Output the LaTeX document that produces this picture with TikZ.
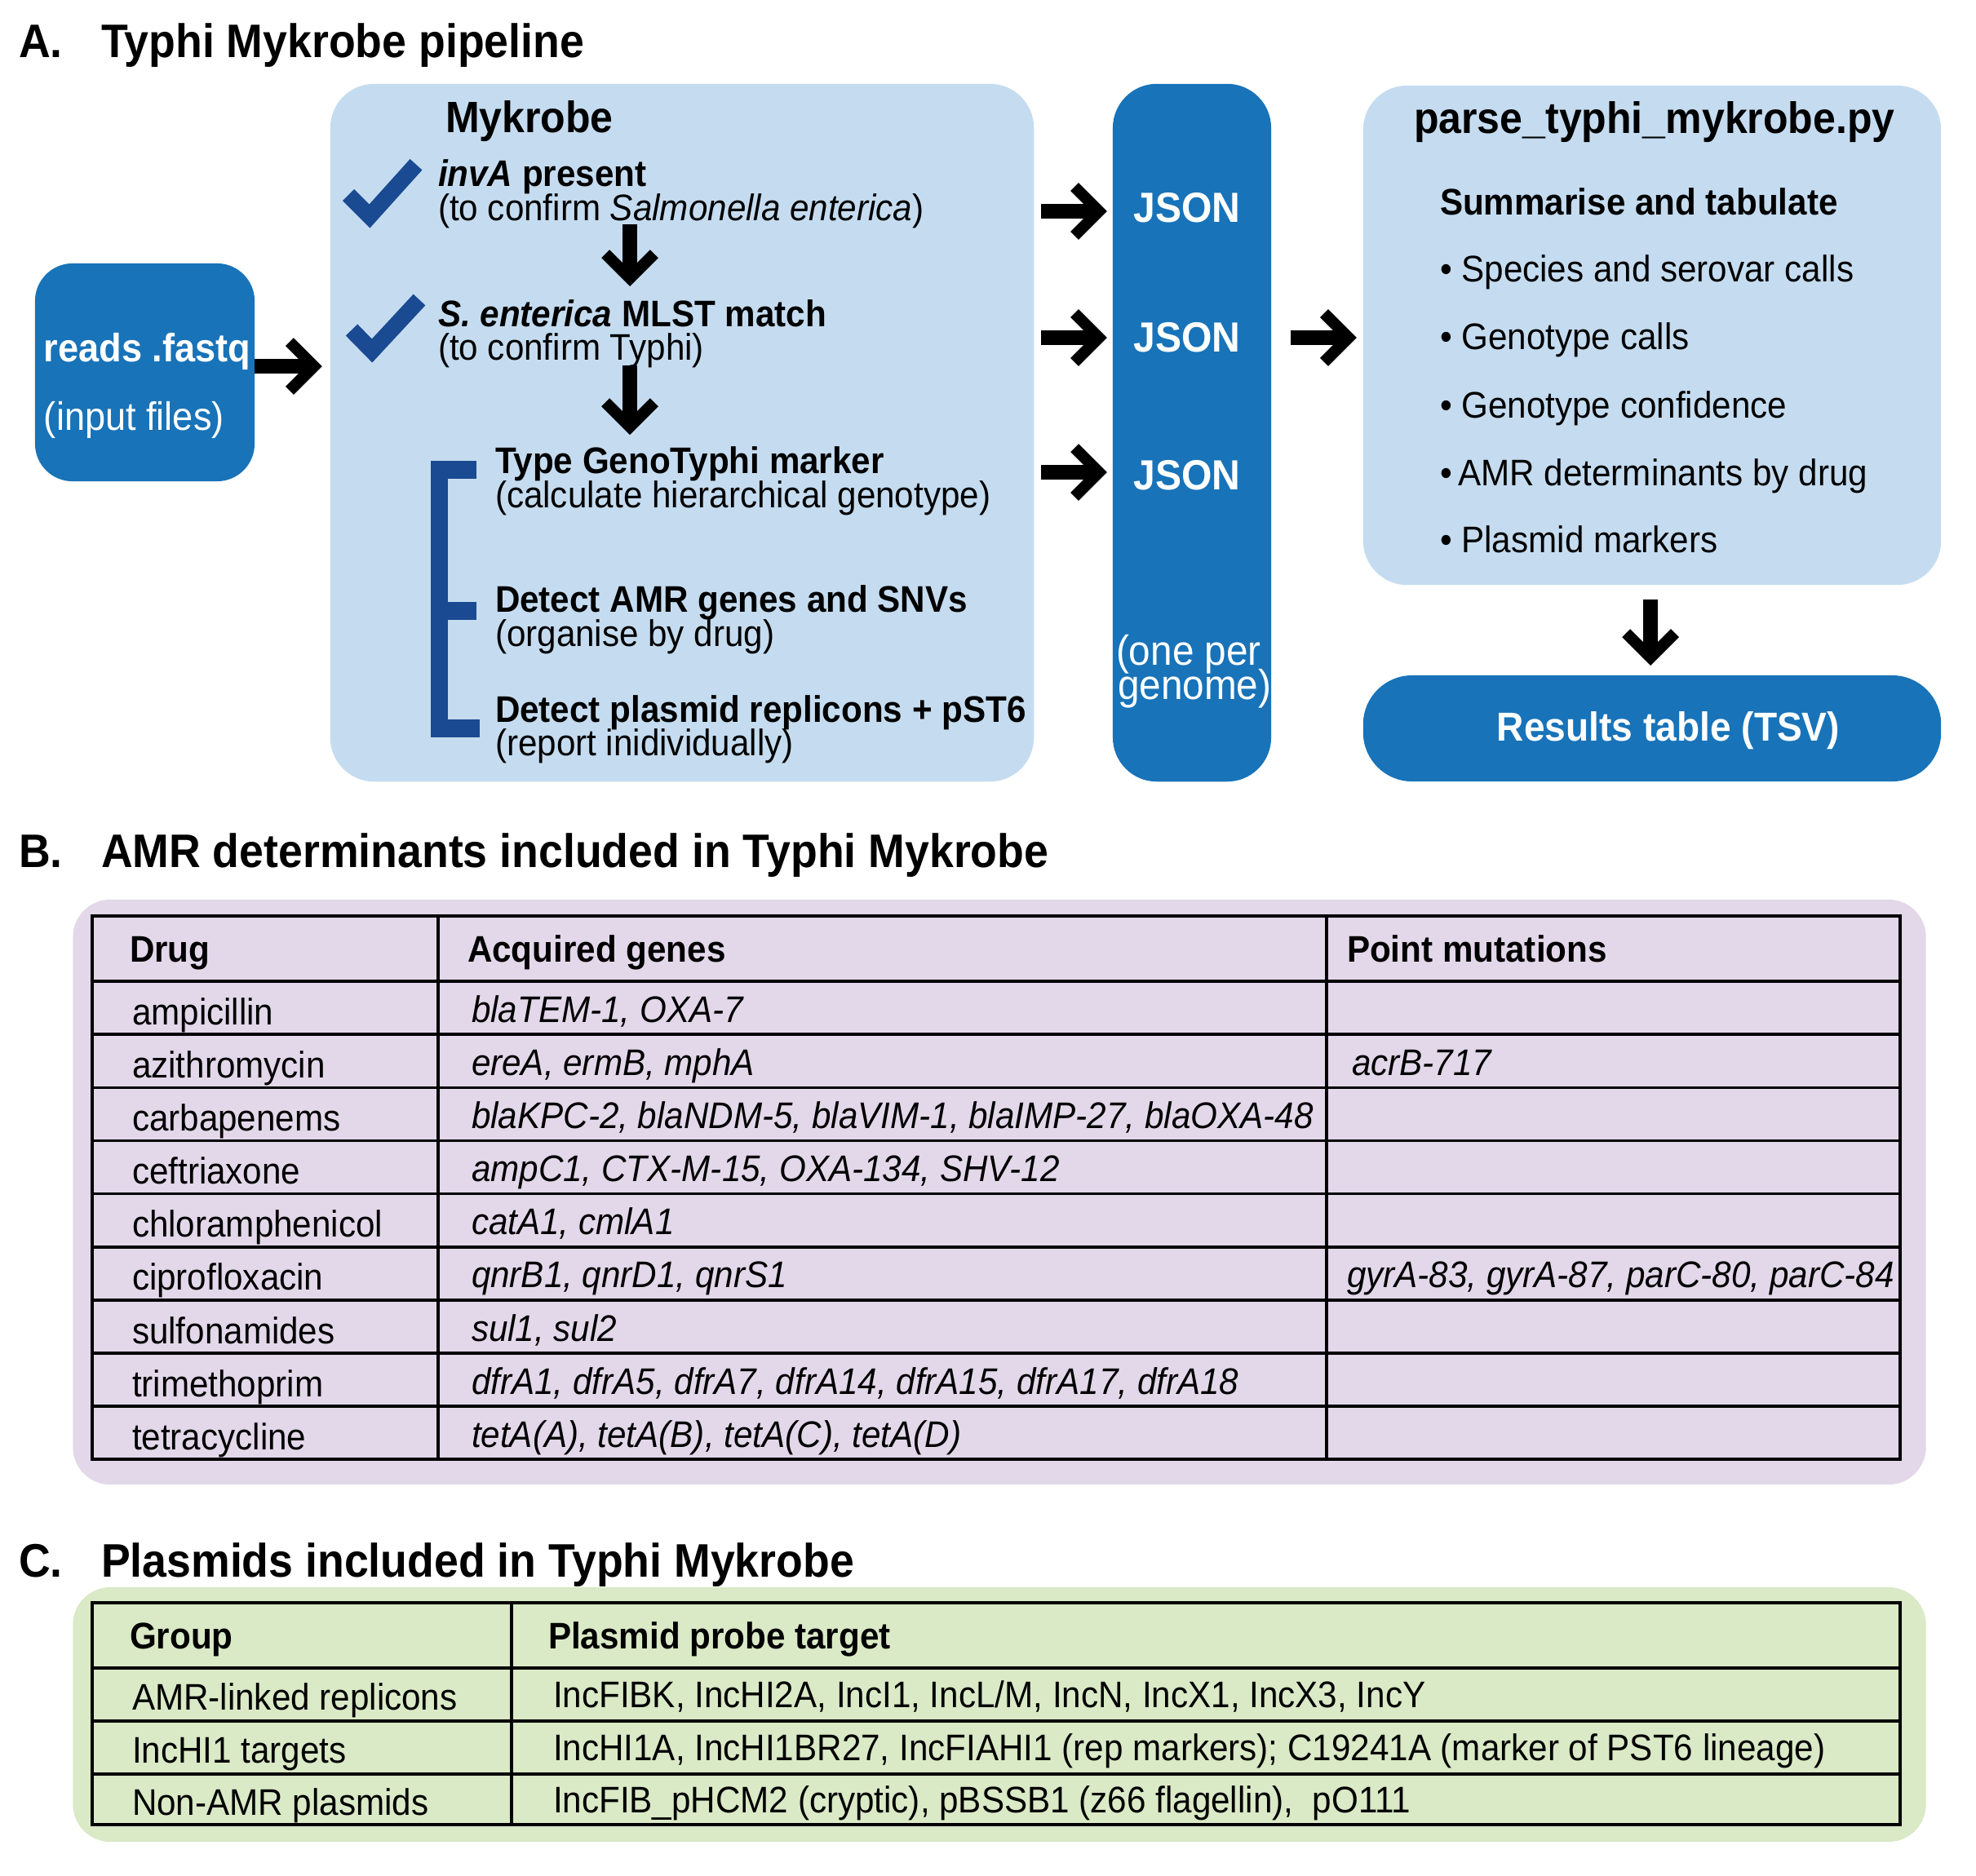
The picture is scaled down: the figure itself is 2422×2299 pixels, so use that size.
\documentclass[tikz,border=0pt]{standalone}
\usepackage{fontspec}
\setmainfont[FakeStretch=0.93]{Liberation Sans}
\usetikzlibrary{arrows.meta}

\tikzset{
  txt/.style={anchor=base west,inner sep=0pt,outer sep=0pt},
  ctxt/.style={anchor=base,inner sep=0pt,outer sep=0pt},
  box/.style={inner sep=0pt,outer sep=0pt,rounded corners=0.54cm},
  ftitle/.style={font=\fontsize{16.4}{18}\selectfont\bfseries},
  fhead/.style={font=\fontsize{15.3}{17}\selectfont\bfseries},
  fjson/.style={font=\fontsize{14.7}{16}\selectfont\bfseries},
  fres/.style={font=\fontsize{14.1}{16}\selectfont\bfseries},
  freads/.style={font=\fontsize{13.8}{15}\selectfont},
  freadsb/.style={font=\fontsize{13.8}{15}\selectfont\bfseries},
  fgen/.style={font=\fontsize{14.6}{16}\selectfont},
  fbody/.style={font=\fontsize{12.9}{14}\selectfont},
  fbold/.style={font=\fontsize{12.9}{14}\selectfont\bfseries},
  fital/.style={font=\fontsize{12.9}{14}\selectfont\itshape},
  fatarrow/.style={line width=5.1pt,-{Straight Barb[length=8.5pt,width=17pt,line width=4pt]}},
  tickmark/.style={draw=tickBlue,line width=5.7pt,miter limit=10},
  grid/.style={draw=black,line width=1pt}
}

\begin{document}
\begin{tikzpicture}[x=0.01cm,y=-0.01cm]
\definecolor{darkBlue}{RGB}{24,115,185}
\definecolor{lightBlue}{RGB}{197,220,240}
\definecolor{tickBlue}{RGB}{26,74,146}
\definecolor{lilac}{RGB}{227,216,234}
\definecolor{sage}{RGB}{218,233,198}
\path[use as bounding box,fill=white] (0,0) rectangle (2422,2299);

\node[txt,ftitle] (labA) at ( 23,70) {A.};
\node[txt,ftitle] (titA) at (124,70) {Typhi Mykrobe pipeline};

\node[box,fill=darkBlue,rounded corners=0.46cm,minimum width=2.69cm,minimum height=2.67cm] (reads) at (177.5,456.5) {};
\node[box,fill=lightBlue,minimum width=8.62cm,minimum height=8.55cm] (myk) at (836,530.5) {};
\node[box,fill=darkBlue,minimum width=1.94cm,minimum height=8.55cm] (json) at (1461,530.5) {};
\node[box,fill=lightBlue,minimum width=7.08cm,minimum height=6.12cm] (parse) at (2025,411) {};
\node[box,fill=darkBlue,rounded corners=0.6cm,minimum width=7.08cm,minimum height=1.30cm] (res) at (2025,893) {};

\node[txt,freadsb,text=white] (readsA) at (54,443) {reads .fastq};
\node[txt,freads,text=white] (readsB) at (54,527) {(input files)};

\node[txt,fhead] (mykHead) at (546,162) {Mykrobe};
\node[txt,fbold] (invA) at (537,228) {\textit{invA} present};
\node[txt,fbody] (invB) at (537,270) {(to confirm \textit{Salmonella enterica})};
\node[txt,fbold] (mlstA) at (537,400) {\textit{S. enterica} MLST match};
\node[txt,fbody] (mlstB) at (537,441) {(to confirm Typhi)};
\node[txt,fbold] (genoA) at (607,580) {Type GenoTyphi marker};
\node[txt,fbody] (genoB) at (607,622) {(calculate hierarchical genotype)};
\node[txt,fbold] (amrA) at (607,750) {Detect AMR genes and SNVs};
\node[txt,fbody] (amrB) at (607,792) {(organise by drug)};
\node[txt,fbold] (plasA) at (607,885) {Detect plasmid replicons + pST6};
\node[txt,fbody] (plasB) at (607,926) {(report inidividually)};

\path[tickmark] (427,239) -- (453,265) -- (510,201.7);
\path[tickmark] (431,404.5) -- (456,430) -- (514,367.5);
\path[draw=tickBlue,line width=6pt] (584,576) -- (538.5,576) -- (538.5,893) -- (588,893);
\path[draw=tickBlue,line width=6pt] (538.5,749) -- (584,749);

\coordinate (dnA1) at (772,275);
\coordinate (dnA2) at (772,351);
\coordinate (dnB1) at (772,448);
\coordinate (dnB2) at (772,533);
\draw[fatarrow] (dnA1) -- (dnA2);
\draw[fatarrow] (dnB1) -- (dnB2);

\node[ctxt,fjson,text=white] (json1) at (1455,272) {JSON};
\node[ctxt,fjson,text=white] (json2) at (1455,431) {JSON};
\node[ctxt,fjson,text=white] (json3) at (1455,600) {JSON};
\node[txt,fgen,text=white] (perA) at (1368,815) {(one per};
\node[txt,fgen,text=white] (perB) at (1370,857) {genome)};

\node[txt,fhead] (parseHead) at (1733,163) {parse\_typhi\_mykrobe.py};
\node[txt,fbold] (sumHead) at (1765,263) {Summarise and tabulate};
\node[txt,fbody] (sum1) at (1765,345) {• Species and serovar calls};
\node[txt,fbody] (sum2) at (1765,428) {• Genotype calls};
\node[txt,fbody] (sum3) at (1765,512) {• Genotype confidence};
\node[txt,fbody] (sum4) at (1765,595) {•\,AMR determinants by drug};
\node[txt,fbody] (sum5) at (1765,677) {• Plasmid markers};
\node[ctxt,fres,text=white] (resText) at (2045,908) {Results table (TSV)};

\draw[fatarrow,shorten >=0.1cm] (reads.east |- 0,449) -- (myk.west |- 0,449);
\draw[fatarrow,shorten <=0.09cm,shorten >=0.07cm] (myk.east |- 0,259) -- (json.west |- 0,259);
\draw[fatarrow,shorten <=0.09cm,shorten >=0.07cm] (myk.east |- 0,414) -- (json.west |- 0,414);
\draw[fatarrow,shorten <=0.09cm,shorten >=0.07cm] (myk.east |- 0,579) -- (json.west |- 0,579);
\draw[fatarrow,shorten <=0.24cm,shorten >=0.08cm] (json.east |- 0,414) -- (parse.west |- 0,414);
\draw[fatarrow,shorten <=0.18cm,shorten >=0.12cm] (parse.south -| 2023,0) -- (res.north -| 2023,0);

\node[txt,ftitle] (labB) at ( 23,1063) {B.};
\node[txt,ftitle] (titB) at (124,1063) {AMR determinants included in Typhi Mykrobe};

\node[box,fill=lilac,rounded corners=0.46cm,minimum width=22.70cm,minimum height=7.17cm] (amrBg) at (1225,1461.5) {};
\path[grid] (113,1123) rectangle (2329,1789);
\path[grid] (537,1123) -- (537,1789);
\path[grid] (1626,1123) -- (1626,1789);
\path[grid] (113,1203.0) -- (2329,1203.0);
\path[grid] (113,1268.2) -- (2329,1268.2);
\path[grid] (113,1333.3) -- (2329,1333.3);
\path[grid] (113,1398.5) -- (2329,1398.5);
\path[grid] (113,1463.6) -- (2329,1463.6);
\path[grid] (113,1528.8) -- (2329,1528.8);
\path[grid] (113,1593.9) -- (2329,1593.9);
\path[grid] (113,1659.1) -- (2329,1659.1);
\path[grid] (113,1724.2) -- (2329,1724.2);

\node[txt,fbold] (hDrug) at (159,1179) {Drug};
\node[txt,fbold] (hGenes) at (573,1179) {Acquired genes};
\node[txt,fbold] (hPoint) at (1651,1179) {Point mutations};

\node[txt,fbody] (d1) at (162,1256) {ampicillin};
\node[txt,fbody] (d2) at (162,1321) {azithromycin};
\node[txt,fbody] (d3) at (162,1386) {carbapenems};
\node[txt,fbody] (d4) at (162,1451) {ceftriaxone};
\node[txt,fbody] (d5) at (162,1516) {chloramphenicol};
\node[txt,fbody] (d6) at (162,1581) {ciprofloxacin};
\node[txt,fbody] (d7) at (162,1647) {sulfonamides};
\node[txt,fbody] (d8) at (162,1712) {trimethoprim};
\node[txt,fbody] (d9) at (162,1777) {tetracycline};

\node[txt,fital] (g1) at (578,1253) {blaTEM-1, OXA-7};
\node[txt,fital] (g2) at (578,1318) {ereA, ermB, mphA};
\node[txt,fital] (g3) at (578,1383) {blaKPC-2, blaNDM-5, blaVIM-1, blaIMP-27, blaOXA-48};
\node[txt,fital] (g4) at (578,1448) {ampC1, CTX-M-15, OXA-134, SHV-12};
\node[txt,fital] (g5) at (578,1513) {catA1, cmlA1};
\node[txt,fital] (g6) at (578,1578) {qnrB1, qnrD1, qnrS1};
\node[txt,fital] (g7) at (578,1644) {sul1, sul2};
\node[txt,fital] (g8) at (578,1709) {dfrA1, dfrA5, dfrA7, dfrA14, dfrA15, dfrA17, dfrA18};
\node[txt,fital] (g9) at (578,1774) {tetA(A), tetA(B), tetA(C), tetA(D)};

\node[txt,fital] (p2) at (1657,1318) {acrB-717};
\node[txt,fital] (p6) at (1651,1578) {gyrA-83, gyrA-87, parC-80, parC-84};

\node[txt,ftitle] (labC) at ( 23,1933) {C.};
\node[txt,ftitle] (titC) at (124,1933) {Plasmids included in Typhi Mykrobe};

\node[box,fill=sage,rounded corners=0.46cm,minimum width=22.70cm,minimum height=3.12cm] (plasBg) at (1225,2102) {};
\path[grid] (113,1965) rectangle (2329,2237);
\path[grid] (627,1965) -- (627,2237);
\path[grid] (113,2045) -- (2329,2045);
\path[grid] (113,2110) -- (2329,2110);
\path[grid] (113,2175) -- (2329,2175);

\node[txt,fbold] (hGroup) at (159,2021) {Group};
\node[txt,fbold] (hTarget) at (672,2021) {Plasmid probe target};
\node[txt,fbody] (grp1) at (162,2096) {AMR-linked replicons};
\node[txt,fbody] (grp2) at (162,2161) {IncHI1 targets};
\node[txt,fbody] (grp3) at (162,2225) {Non-AMR plasmids};
\node[txt,fbody] (tgt1) at (678,2093) {IncFIBK, IncHI2A, IncI1, IncL/M, IncN, IncX1, IncX3, IncY};
\node[txt,fbody] (tgt2) at (678,2158) {IncHI1A, IncHI1BR27, IncFIAHI1 (rep markers); C19241A (marker of PST6 lineage)};
\node[txt,fbody] (tgt3) at (678,2222) {IncFIB\_pHCM2 (cryptic), pBSSB1 (z66 flagellin), \ pO111};
\end{tikzpicture}
\end{document}
